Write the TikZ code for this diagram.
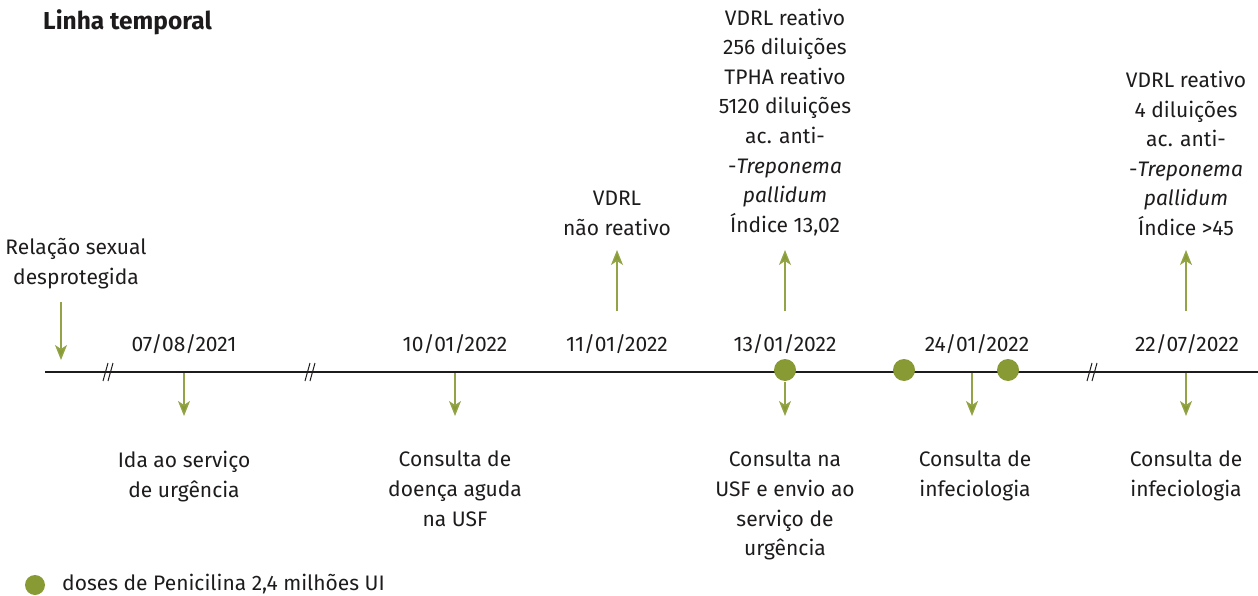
\documentclass[tikz,border=0pt]{standalone}
\usepackage{fontspec}
\setmainfont{Fira Sans}
\usetikzlibrary{arrows.meta}
\definecolor{olive}{RGB}{136,154,52}
\definecolor{arrowgreen}{RGB}{146,164,70}
\definecolor{ink}{RGB}{30,27,28}
\tikzset{
  lbl/.style={align=center,text=ink,inner sep=0pt,font=\fontsize{21}{29.6}\selectfont},
  evt/.style={draw=arrowgreen,line width=1.4pt,-{Stealth[length=15pt,width=12pt,inset=4pt,fill=olive]}},
  dose/.style={circle,fill=olive,minimum size=22pt,inner sep=0pt},
}
\begin{document}
\begin{tikzpicture}[x=1pt,y=-1pt]
        \useasboundingbox (0,0) rectangle (1258,596);
        %% Title
        \node[lbl,anchor=base west,font=\fontsize{24.5}{28}\selectfont\bfseries] (title) at (43,30) {Linha temporal};
        %% Time axis
        \coordinate (axl) at (45,372);
        \coordinate (axr) at (1258,372);
        \draw[ink,line width=2.6pt] (axl) -- (axr);
        %% Breaks
        \draw[ink,line width=1pt] (103,381) -- (108,363) (108,381) -- (113,363);
        \draw[ink,line width=1pt] (305,381) -- (310,363) (310,381) -- (315,363);
        \draw[ink,line width=1pt] (1087,381) -- (1092,363) (1092,381) -- (1097,363);
        %% Dates
        \node[lbl,anchor=base] (d1) at (184,351) {07/08/2021};
        \node[lbl,anchor=base] (d2) at (455,351) {10/01/2022};
        \node[lbl,anchor=base] (d3) at (617,351) {11/01/2022};
        \node[lbl,anchor=base] (d4) at (785,351) {13/01/2022};
        \node[lbl,anchor=base] (d5) at (977,351) {24/01/2022};
        \node[lbl,anchor=base] (d6) at (1187,351) {22/07/2022};
        %% Start
        \node[lbl,anchor=north] (sex) at (76,238) {Relação sexual\\desprotegida};
        \coordinate (sexa) at (61,302);
        \coordinate (sexb) at (61,360);
        \draw[evt] (sexa) -- (sexb);
        %% Events below
        \coordinate (e1) at (184,373);
        \coordinate (e2) at (455,373);
        \coordinate (e4) at (785,382);
        \coordinate (e5) at (972,373);
        \coordinate (e6) at (1186,373);
        \node[lbl,anchor=north] (b1) at (184,451) {Ida ao serviço\\de urgência};
        \node[lbl,anchor=north] (b2) at (455,451) {Consulta de\\doença aguda\\na USF};
        \node[lbl,anchor=north] (b4) at (785,451) {Consulta na\\USF e envio ao\\serviço de\\urgência};
        \node[lbl,anchor=north] (b5) at (975,451) {Consulta de\\infeciologia};
        \node[lbl,anchor=north] (b6) at (1186,451) {Consulta de\\infeciologia};
        \draw[evt] (e1) -- ++(0,43);
        \draw[evt] (e2) -- ++(0,43);
        \draw[evt] (e4) -- ++(0,34);
        \draw[evt] (e5) -- ++(0,43);
        \draw[evt] (e6) -- ++(0,43);
        %% Results above
        \node[lbl,anchor=south] (r3) at (617,236) {VDRL\\não reativo};
        \node[lbl,anchor=south] (r4) at (785,236) {VDRL reativo\\256 diluições\\TPHA reativo\\5120 diluições\\ac. anti-\\-\textit{Treponema}\\\textit{pallidum}\\Índice 13,02};
        \node[lbl,anchor=south] (r6) at (1186,236) {VDRL reativo\\4 diluições\\ac. anti-\\-\textit{Treponema}\\\textit{pallidum}\\Índice >45};
        \coordinate (u3) at (617,311);
        \coordinate (u4) at (785,311);
        \coordinate (u6) at (1186,311);
        \draw[evt] (u3) -- ++(0,-61);
        \draw[evt] (u4) -- ++(0,-61);
        \draw[evt] (u6) -- ++(0,-61);
        %% Penicillin doses
        \node[dose] (p1) at (785,370) {};
        \node[dose] (p2) at (904,370) {};
        \node[dose] (p3) at (1008,370) {};
        %% Legend
        \node[dose,minimum size=20pt] (leg) at (35,585) {};
        \node[lbl,anchor=base west] (legt) at (62,590) {doses de Penicilina 2,4 milhões UI};
    \end{tikzpicture}
\end{document}
